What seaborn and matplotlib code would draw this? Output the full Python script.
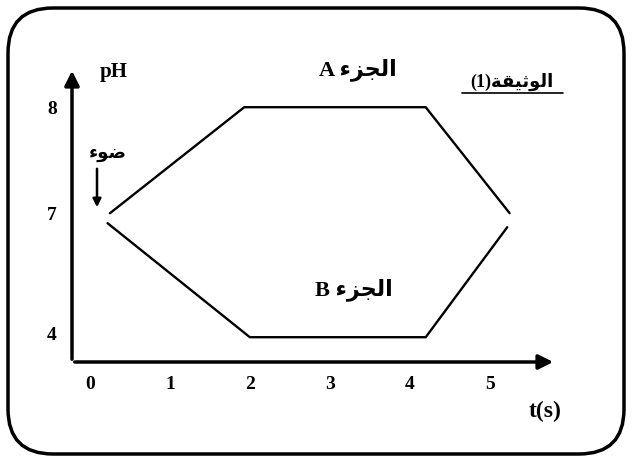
import numpy as np
import matplotlib
matplotlib.use("Agg")
import matplotlib.pyplot as plt
from matplotlib.patches import FancyBboxPatch
import seaborn as sns

# data (time in s, pH)
upper_t = [0.25, 1.93, 4.2, 5.25]
upper_ph = [7.0, 8.0, 8.0, 7.0]
lower_t = [0.22, 2.0, 4.2, 5.22]
lower_ph = [6.75, 3.9, 3.9, 6.65]
x_ticks = [0, 1, 2, 3, 4, 5]
y_ticks = [4, 7, 8]

# arabic labels in shaped (presentation) form, visual order
part_a = "A \uFE80\uFEB0\uFEA0\uFEDF\uFE8D"
part_b = "B \uFE80\uFEB0\uFEA0\uFEDF\uFE8D"
doc_label = "(1)\uFE94\uFED8\uFEF4\uFE9B\uFEEE\uFEDF\uFE8D"
light_label = "\uFE80\uFEEE\uFEBF"

sns.set_theme(style="white")
plt.rcParams['font.family'] = ['Liberation Serif', 'DejaVu Sans']
plt.rcParams['text.color'] = 'black'
plt.rcParams['xtick.color'] = 'black'
plt.rcParams['ytick.color'] = 'black'
mixed = ['Liberation Serif', 'DejaVu Sans']

fig = plt.figure(figsize=(6.32, 4.62), dpi=100)

# background layer in pixel units for the frame and annotations
bg = fig.add_axes([0, 0, 1, 1], zorder=0)
bg.set_xlim(0, 632)
bg.set_ylim(462, 0)
bg.axis('off')
frame = FancyBboxPatch((8, 8), 616, 446, boxstyle="round,pad=0,rounding_size=45",
                       fill=False, lw=2.5, ec='black')
bg.add_patch(frame)
bg.text(512, 82, doc_label, family=mixed, fontsize=13, fontweight='bold',
        ha='center', va='center')
bg.plot([462, 563], [93, 93], color='black', lw=1.2)
bg.text(108, 153, light_label, family=mixed, fontsize=13, fontweight='bold',
        ha='center', va='center')
bg.annotate('', xy=(97, 210), xytext=(97, 166),
            arrowprops=dict(arrowstyle='-|>', color='black', lw=1.8, mutation_scale=12))

# main plot
ax = fig.add_axes([72 / 632, 100 / 462, 484 / 632, 294 / 462], zorder=1)
ax.patch.set_visible(False)
ax.set_yscale('function', functions=(lambda v: np.where(v <= 7, v, 7 + (v - 7) * 2.65),
                                     lambda u: np.where(u <= 7, u, 7 + (u - 7) / 2.65)))

sns.lineplot(x=upper_t, y=upper_ph, sort=False, color='black', lw=1.7, ax=ax)
sns.lineplot(x=lower_t, y=lower_ph, sort=False, color='black', lw=1.7, ax=ax)

ax.set_xlim(-0.225, 5.83)
ax.set_ylim(3.28, 8.37)
for s in ax.spines.values():
    s.set_visible(False)

ax.annotate('', xy=(1.0, 0), xytext=(0, 0), xycoords='axes fraction',
            arrowprops=dict(arrowstyle='-|>', color='black', lw=2.5, mutation_scale=22))
ax.annotate('', xy=(0, 1.0), xytext=(0, 0), xycoords='axes fraction',
            arrowprops=dict(arrowstyle='-|>', color='black', lw=2.5, mutation_scale=22))

ax.set_xticks(x_ticks)
ax.set_xticklabels([str(v) for v in x_ticks], fontsize=14, fontweight='bold')
ax.set_yticks(y_ticks)
ax.set_yticklabels([str(v) for v in y_ticks], fontsize=14, fontweight='bold')
ax.yaxis.set_minor_locator(matplotlib.ticker.NullLocator())
ax.tick_params(axis='x', length=0, pad=10)
ax.tick_params(axis='y', length=0, pad=11)

ax.text(3.35, 8.35, part_a, family=mixed, fontsize=16, fontweight='bold',
        ha='center', va='center')
ax.text(3.3, 5.1, part_b, family=mixed, fontsize=16, fontweight='bold',
        ha='center', va='center')
ax.text(0.057, 0.985, 'pH', transform=ax.transAxes, fontsize=15, fontweight='bold',
        va='center')
ax.text(5.7, 2.05, 't(s)', fontsize=17, fontweight='bold', ha='center', va='center',
        clip_on=False)

fig.savefig('out.png', dpi=100)
